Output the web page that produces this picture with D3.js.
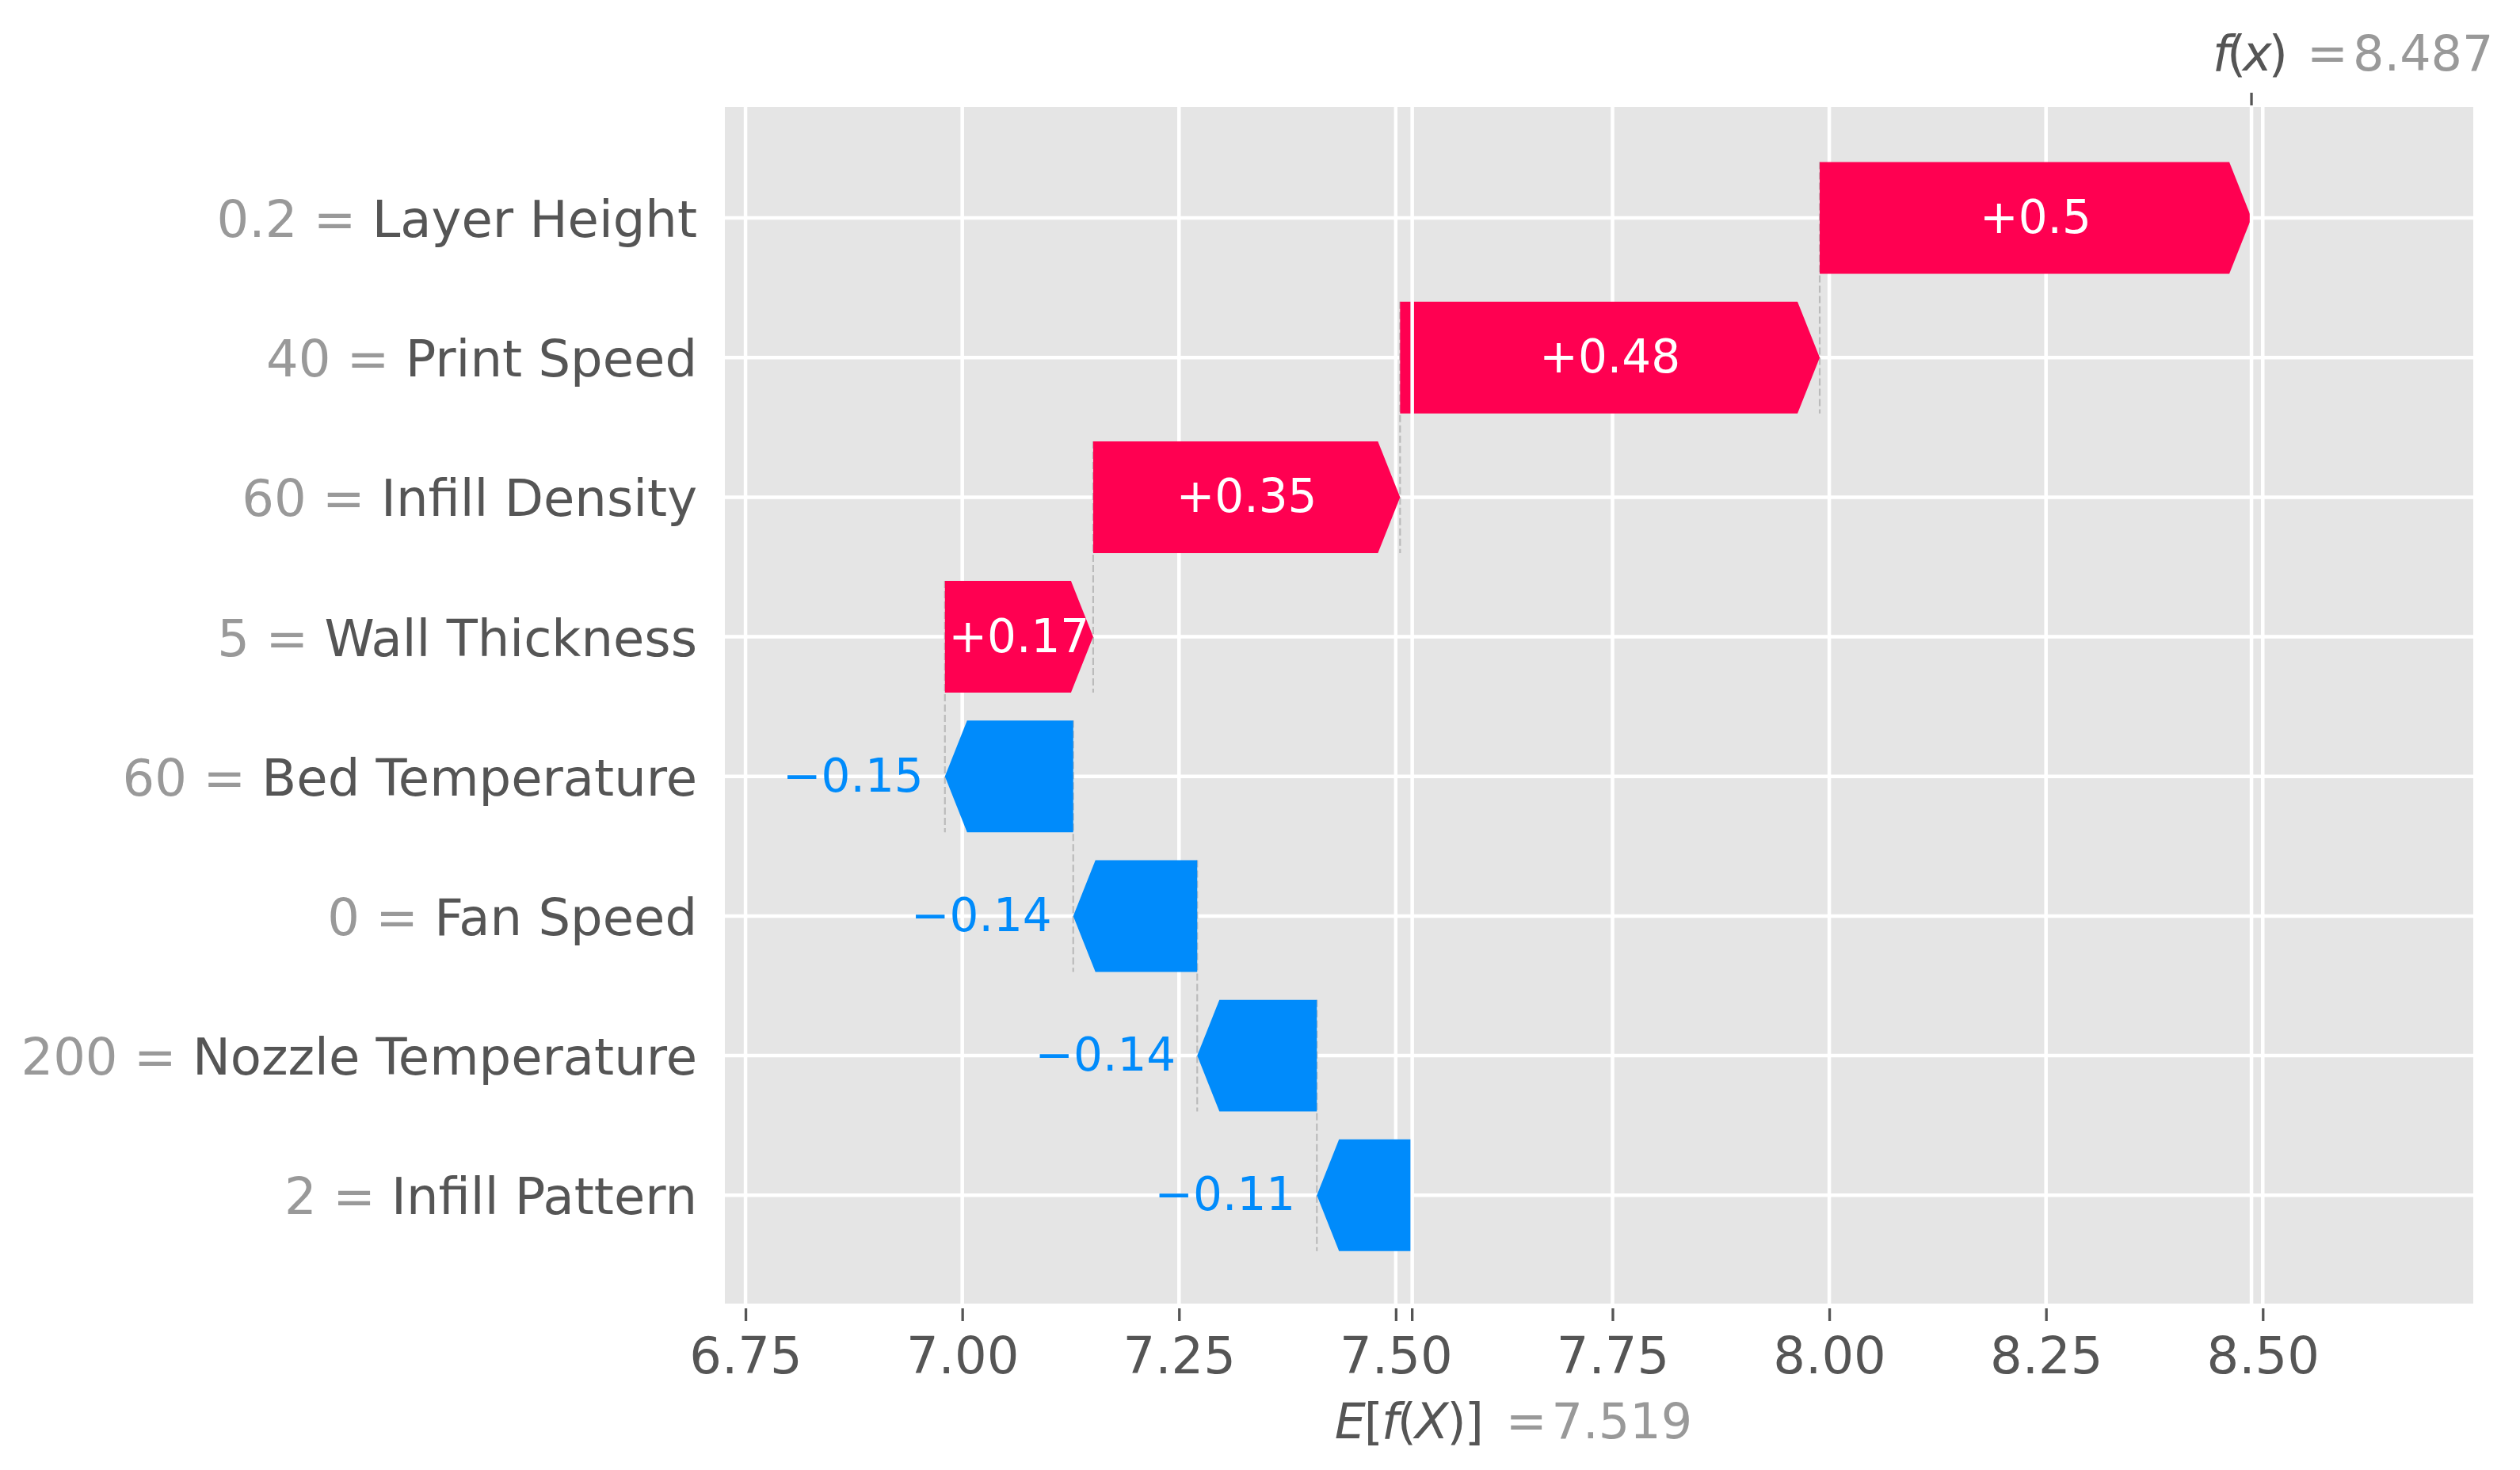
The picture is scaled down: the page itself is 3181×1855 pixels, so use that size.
<!DOCTYPE html>
<html>
<head>
<meta charset="utf-8">
<script src="https://cdn.jsdelivr.net/npm/d3@7"></script>
<style>
  body { margin: 0; background: #fff; }
  svg { display: block; font-family: "DejaVu Sans", sans-serif; }
</style>
</head>
<body>
<svg id="chart"></svg>
<script>
// waterfall data, top row first
const features = ['Layer Height', 'Print Speed', 'Infill Density', 'Wall Thickness',
  'Bed Temperature', 'Fan Speed', 'Nozzle Temperature', 'Infill Pattern'];
const featureValues = ['0.2', '40', '60', '5', '60', '0', '200', '2'];
const shapValues = [0.498, 0.484, 0.354, 0.171, -0.148, -0.143, -0.138, -0.11];
const baseValue = 7.519;
const xTicks = [6.75, 7.0, 7.25, 7.5, 7.75, 8.0, 8.25, 8.5];

const width = 3181;
const height = 1855;
const plot = { left: 915, right: 3122, top: 135, bottom: 1645 };
const red = '#ff0051';
const blue = '#008bfb';
const headLen = 28;

const svg = d3.select('#chart')
  .attr('width', width)
  .attr('height', height);

const x = d3.scaleLinear().domain([6.7262, 8.7428]).range([plot.left, plot.right]);
const y = d3.scaleLinear().domain([-0.795, 7.776]).range([plot.top, plot.bottom]);

// running sums, from the bottom row up
const rows = features.map((name, i) => ({ name, value: featureValues[i], shap: shapValues[i], i }));
let pos = baseValue;
for (let i = rows.length - 1; i >= 0; i--) {
  rows[i].start = pos;
  pos += rows[i].shap;
  rows[i].end = pos;
}
const fx = pos;

// background + grid
svg.append('rect')
  .attr('x', plot.left).attr('y', plot.top)
  .attr('width', plot.right - plot.left).attr('height', plot.bottom - plot.top)
  .attr('fill', '#e5e5e5');

svg.append('g').selectAll('line')
  .data(xTicks)
  .enter()
  .append('line')
  .attr('x1', d => x(d)).attr('x2', d => x(d))
  .attr('y1', plot.top).attr('y2', plot.bottom)
  .attr('stroke', '#fff').attr('stroke-width', 4.5);

svg.append('g').selectAll('line')
  .data(rows)
  .enter()
  .append('line')
  .attr('x1', plot.left).attr('x2', plot.right)
  .attr('y1', d => y(d.i)).attr('y2', d => y(d.i))
  .attr('stroke', '#fff').attr('stroke-width', 4.5);

// dashed connectors between bars
svg.append('g').selectAll('line')
  .data(rows.slice(0, rows.length - 1))
  .enter()
  .append('line')
  .attr('x1', d => x(d.start)).attr('x2', d => x(d.start))
  .attr('y1', d => y(d.i - 0.4)).attr('y2', d => y(d.i + 1 + 0.4))
  .attr('stroke', '#bbbbbb').attr('stroke-width', 2.2)
  .attr('stroke-dasharray', '9,4');

// arrows
function arrowPath(d) {
  const x0 = x(d.start);
  const x1 = x(d.end);
  const t = y(d.i - 0.4);
  const b = y(d.i + 0.4);
  const m = y(d.i);
  const dir = x1 > x0 ? 1 : -1;
  const hl = Math.min(headLen, Math.abs(x1 - x0));
  const xb = x1 - dir * hl;
  return `M${x0},${t}L${xb},${t}L${x1},${m}L${xb},${b}L${x0},${b}Z`;
}

svg.append('g').selectAll('path')
  .data(rows)
  .enter()
  .append('path')
  .attr('d', arrowPath)
  .attr('fill', d => (d.shap > 0 ? red : blue));

// value labels
const fmt = (v) => d3.format('+.2f')(v).replace(/0+$/, '').replace(/\.$/, '');
const labels = svg.append('g').selectAll('text')
  .data(rows)
  .enter()
  .append('text')
  .attr('y', d => y(d.i) + 19)
  .attr('font-size', 58)
  .text(d => fmt(d.shap));

labels.each(function (d) {
  const txt = d3.select(this);
  const w = this.getComputedTextLength();
  const barW = Math.abs(x(d.end) - x(d.start));
  if (w < barW) {
    txt.attr('x', (x(d.start) + x(d.end)) / 2)
      .attr('text-anchor', 'middle')
      .attr('fill', '#fff');
  } else if (d.shap < 0) {
    txt.attr('x', x(d.end) - 27)
      .attr('text-anchor', 'end')
      .attr('fill', blue);
  } else {
    txt.attr('x', x(d.end) + 27)
      .attr('text-anchor', 'start')
      .attr('fill', red);
  }
});

// grid lines of E[f(X)] and f(x), they sit on top
svg.append('g').selectAll('line')
  .data([baseValue, fx])
  .enter()
  .append('line')
  .attr('x1', d => x(d)).attr('x2', d => x(d))
  .attr('y1', plot.top).attr('y2', plot.bottom)
  .attr('stroke', '#fff').attr('stroke-width', 4.5);

// y labels
const ylab = svg.append('g').selectAll('text')
  .data(rows)
  .enter()
  .append('text')
  .attr('x', plot.left - 35)
  .attr('y', d => y(d.i) + 24)
  .attr('text-anchor', 'end')
  .attr('font-size', 64);
ylab.append('tspan').attr('fill', '#999').text(d => `${d.value} = `);
ylab.append('tspan').attr('fill', '#555').text(d => d.name);

// bottom axis
const axisY = 1651;
const xAxis = svg.append('g')
  .attr('transform', `translate(0,${axisY})`)
  .call(d3.axisBottom(x).tickValues(xTicks).tickFormat(d3.format('.2f')).tickSize(16));
xAxis.select('.domain').remove();
xAxis.selectAll('.tick line').attr('stroke', '#555').attr('stroke-width', 3.3);
xAxis.selectAll('.tick text')
  .attr('y', 1733 - axisY).attr('dy', null)
  .attr('font-size', 64).attr('font-family', '"DejaVu Sans", sans-serif')
  .attr('fill', '#555');

svg.append('line')
  .attr('x1', x(baseValue)).attr('x2', x(baseValue))
  .attr('y1', axisY).attr('y2', axisY + 16)
  .attr('stroke', '#555').attr('stroke-width', 3.3);

svg.append('line')
  .attr('x1', x(fx)).attr('x2', x(fx))
  .attr('y1', plot.top - 2).attr('y2', plot.top - 18)
  .attr('stroke', '#555').attr('stroke-width', 3.3);

// E[f(X)] label
const eLab = svg.append('text')
  .attr('x', x(baseValue) - 98).attr('y', 1815)
  .attr('font-size', 62).attr('fill', '#555')
  .attr('letter-spacing', -2);
eLab.append('tspan').attr('font-style', 'italic').text('E');
eLab.append('tspan').text('[');
eLab.append('tspan').attr('font-style', 'italic').text('f');
eLab.append('tspan').text('(');
eLab.append('tspan').attr('font-style', 'italic').text('X');
eLab.append('tspan').text(')]');
const eVal = svg.append('text')
  .attr('x', x(baseValue) + 118).attr('y', 1815)
  .attr('font-size', 62).attr('fill', '#999');
eVal.append('tspan').text('=');
eVal.append('tspan').attr('dx', 6).text(d3.format('.3f')(baseValue));

// f(x) label
const fLab = svg.append('text')
  .attr('x', x(fx) - 49).attr('y', 89)
  .attr('font-size', 62).attr('fill', '#555')
  .attr('letter-spacing', -4);
fLab.append('tspan').attr('font-style', 'italic').text('f');
fLab.append('tspan').text('(');
fLab.append('tspan').attr('font-style', 'italic').text('x');
fLab.append('tspan').text(')');
const fVal = svg.append('text')
  .attr('x', x(fx) + 70).attr('y', 89)
  .attr('font-size', 62).attr('fill', '#999');
fVal.append('tspan').text('=');
fVal.append('tspan').attr('dx', 6).text(d3.format('.3f')(fx));
</script>
</body>
</html>
